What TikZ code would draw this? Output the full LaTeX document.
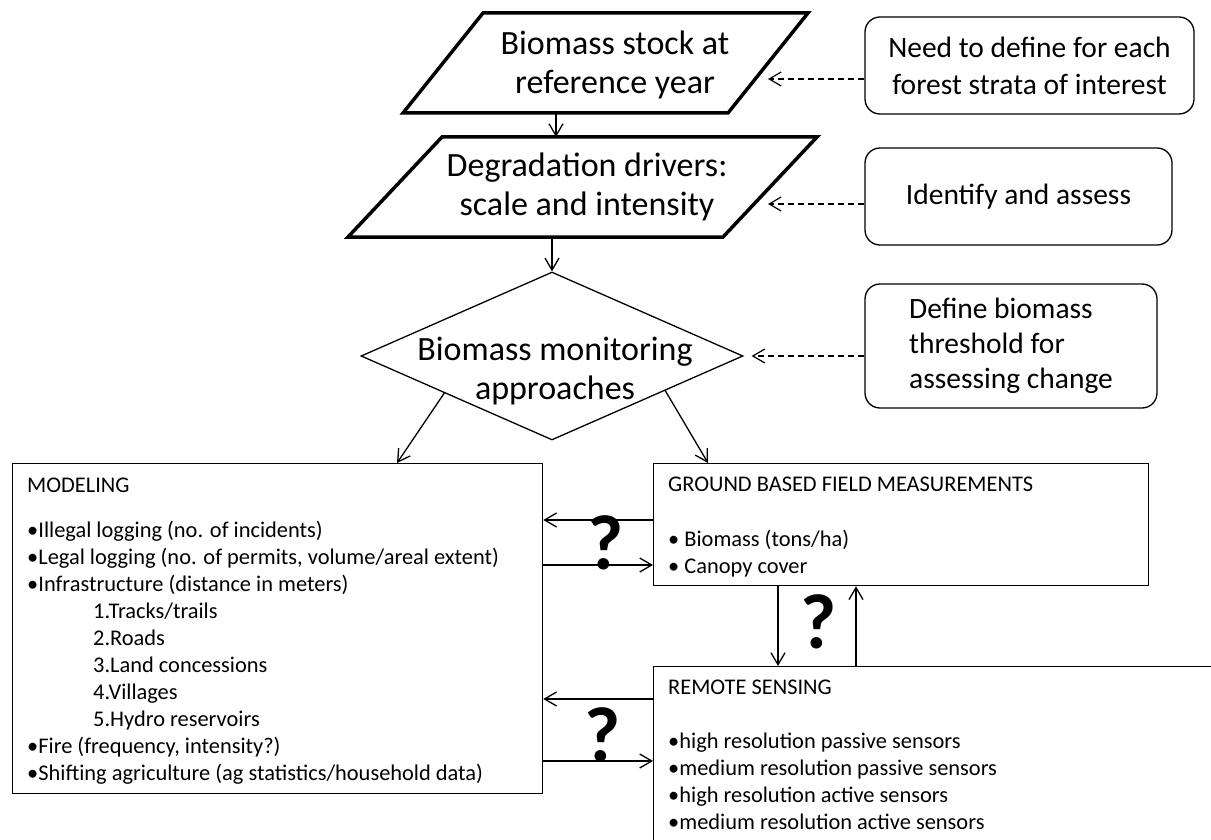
\documentclass[tikz,border=0pt]{standalone}
\usepackage{fontspec}
\setmainfont{Carlito}
\usetikzlibrary{shapes.geometric,arrows.meta}

\tikzset{
  barb/.style={-{Straight Barb[length=12pt,width=14pt]}},
  thinline/.style={line width=1.3pt},
  dashline/.style={line width=1.2pt, dash pattern=on 6pt off 4pt},
  bigtext/.style={align=center, inner sep=0pt, font=\fontsize{34}{39}\selectfont},
  note/.style={draw, line width=1.3pt, rounded corners=15pt, align=center, inner sep=0pt,
    font=\fontsize{29.5}{37}\selectfont},
  panel/.style={draw, line width=1.3pt, anchor=north west, inner sep=0pt},
  listtext/.style={anchor=north west, align=left, inner sep=0pt, font=\fontsize{22.4}{27}\selectfont},
  query/.style={inner sep=0pt, font=\fontsize{78}{78}\selectfont\bfseries},
}

\begin{document}
\begin{tikzpicture}[x=1pt, y=-1pt, line join=miter]

    % canvas (pixel units, y down)
    \useasboundingbox (0,0) rectangle (1211,840);
    \clip (0,0) rectangle (1211,840);

    % key points
    \coordinate (stockS) at (556,113);
    \coordinate (driversN) at (556,137);
    \coordinate (driversS) at (552,237);
    \coordinate (stockE) at (768,79);
    \coordinate (driversE) at (768,204);

    % input parallelograms (thick)
    \draw[line width=3.5pt] (483,13) -- (808,13) -- (728,113) -- (403,113) -- cycle;
    \draw[line width=3.5pt] (442,137) -- (817,137) -- (723,237) -- (348,237) -- cycle;
    \node[bigtext] (stock) at (615,65) {Biomass stock at\\reference year};
    \node[bigtext] (drivers) at (587,187) {Degradation drivers:\\scale and intensity};

    % decision diamond
    \node[diamond, draw, thinline, minimum width=382pt, minimum height=168pt, inner sep=0pt] (approach) at (552,356) {};
    \node[bigtext] (approachtxt) at (555,371) {Biomass monitoring\\approaches};

    % side notes
    \node[note, minimum width=329pt, minimum height=97pt] (strata) at (1029.5,65.5) {Need to define for each\\forest strata of interest};
    \node[note, minimum width=307pt, minimum height=97pt] (assess) at (1018.5,196.5) {Identify and assess};
    \node[note, minimum width=292pt, minimum height=124pt, align=left, font=\fontsize{29.5}{35}\selectfont] (threshold) at (1011,346) {Define biomass\\threshold for\\assessing change};

    % approach panels
    \node[panel, minimum width=530pt, minimum height=330pt] (modeling) at (12,463) {};
    \node[panel, minimum width=495pt, minimum height=122pt] (ground) at (653,463) {};
    \node[panel, minimum width=700pt, minimum height=300pt] (remote) at (653,666) {};

    \node[listtext] (modelingtxt) at (27,478) {MODELING\\[18pt]
      •Illegal logging (no. of incidents)\\
      •Legal logging (no. of permits, volume/areal extent)\\
      •Infrastructure (distance in meters)\\
      \hspace*{66pt}1.Tracks/trails\\
      \hspace*{66pt}2.Roads\\
      \hspace*{66pt}3.Land concessions\\
      \hspace*{66pt}4.Villages\\
      \hspace*{66pt}5.Hydro reservoirs\\
      •Fire (frequency, intensity?)\\
      •Shifting agriculture (ag statistics/household data)};
    \node[listtext] (groundtxt) at (668,477) {GROUND BASED FIELD MEASUREMENTS\\[28pt]
      • Biomass (tons/ha)\\
      • Canopy cover};
    \node[listtext] (remotetxt) at (668,680) {REMOTE SENSING\\[27pt]
      •high resolution passive sensors\\
      •medium resolution passive sensors\\
      •high resolution active sensors\\
      •medium resolution active sensors};

    % main flow
    \draw[thinline, barb] (stockS) -- (driversN);
    \draw[thinline, barb] (driversS) -- (approach.north);
    \draw[thinline, barb] (approach.199) -- (397,0 |- modeling.north);
    \draw[thinline, barb] (approach.-17) -- (708,0 |- ground.north);

    % notes pointing in (dashed)
    \draw[dashline, barb] (strata.west |- 0,79) -- (stockE);
    \draw[dashline, barb] (assess.west |- 0,204) -- (driversE);
    \draw[dashline, barb] (threshold.west |- 0,356) -- ([xshift=8pt]approach.east);

    % links between panels
    \draw[thinline, barb] (ground.west |- 0,520) -- (modeling.east |- 0,520);
    \draw[thinline, barb] (modeling.east |- 0,565) -- (ground.west |- 0,565);
    \draw[thinline, barb] (remote.west |- 0,699) -- (modeling.east |- 0,699);
    \draw[thinline, barb] (modeling.east |- 0,761) -- (remote.west |- 0,761);
    \draw[thinline, barb] (778,0 |- ground.south) -- (778,0 |- remote.north);
    \draw[thinline, barb] (856,0 |- remote.north) -- (856,0 |- ground.south);

    % open questions
    \node[query] (qground) at (606,543) {?};
    \node[query] (qsense) at (819,622) {?};
    \node[query] (qremote) at (603,735) {?};

\end{tikzpicture}
\end{document}
